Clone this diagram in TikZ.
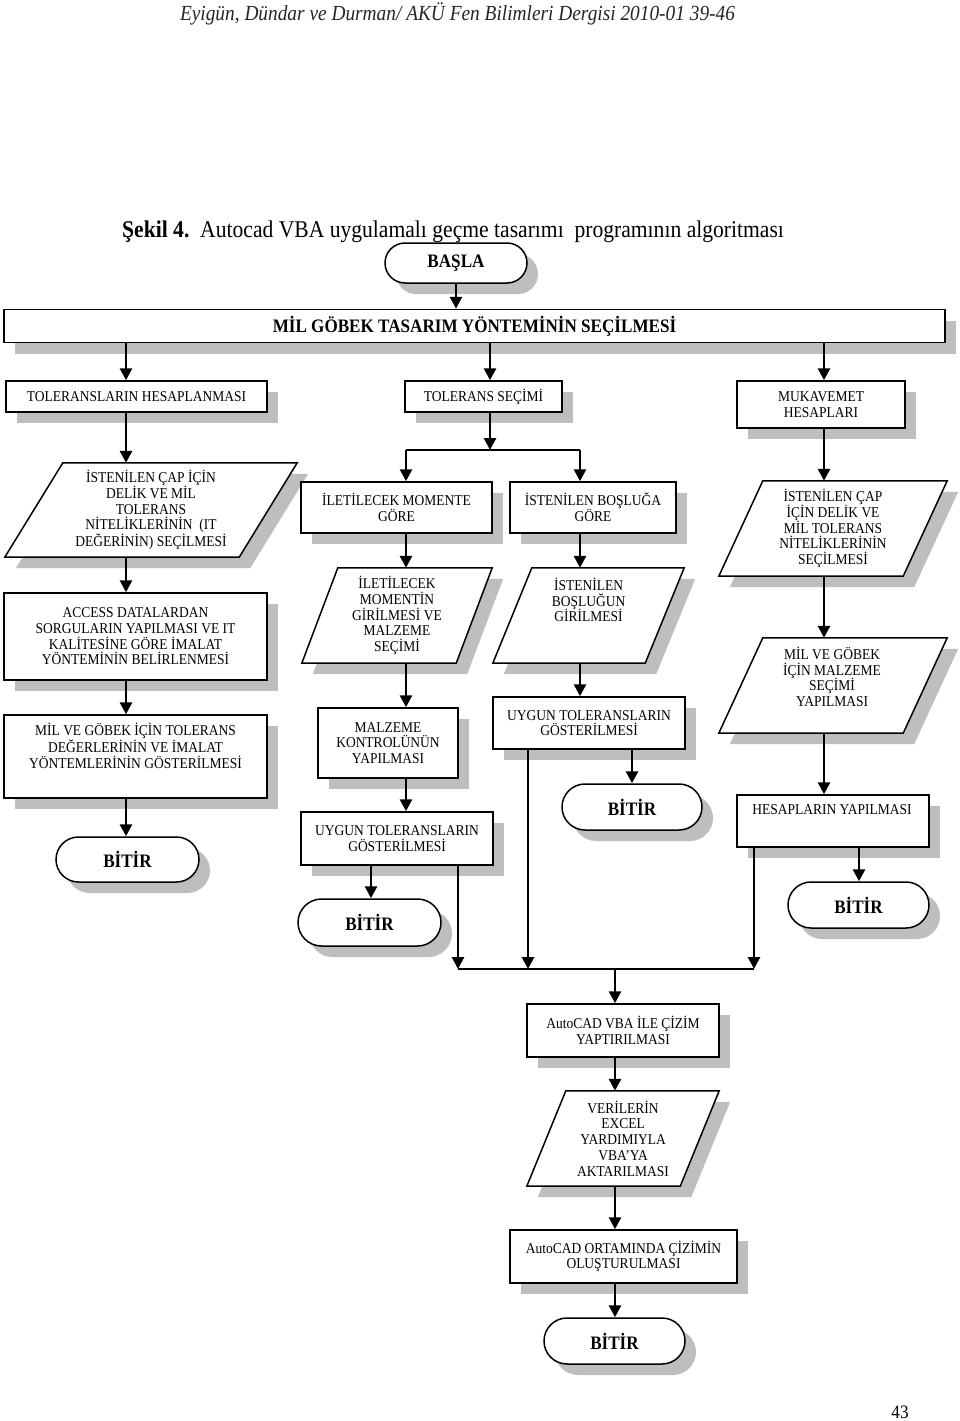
\documentclass[tikz,border=0pt]{standalone}
\usepackage{fontspec}
\setmainfont{Liberation Serif}[FakeStretch=0.9]
\usetikzlibrary{shapes.misc,shadows,calc,arrows.meta}
\pgfdeclarelayer{bg}
\pgfsetlayers{bg,main}
\definecolor{shadowc}{RGB}{190,190,190}
\newcommand{\myBody}{\fontsize{15}{15.7}\selectfont}
\newcommand{\myBold}{\bfseries\fontsize{19}{20}\selectfont}
\newcommand{\parashape}[2]{%
  \begin{pgfonlayer}{bg}
  \fill[shadowc] ($(#1.north west)+(#2+11,11)$) -- ($(#1.north east)+(11,11)$) -- ($(#1.south east)+(-#2+11,11)$) -- ($(#1.south west)+(11,11)$) -- cycle;
  \draw[line width=1.5pt,fill=white,line join=miter] ($(#1.north west)+(#2,0)$) -- (#1.north east) -- ($(#1.south east)+(-#2,0)$) -- (#1.south west) -- cycle;
  \end{pgfonlayer}}
\begin{document}
\begin{tikzpicture}[x=1pt,y=-1pt,
  shadowed/.style={drop shadow={shadow xshift=11pt,shadow yshift=-11pt,opacity=1,fill=shadowc}},
  box/.style={draw,line width=1.5pt,fill=white,rectangle,inner sep=0pt,align=center,font=\myBody,shadowed},
  term/.style={draw,line width=1.5pt,fill=white,rounded rectangle,inner sep=0pt,align=center,font=\myBold,shadowed},
  pbox/.style={rectangle,inner sep=0pt,align=center,font=\myBody},
  txt/.style={inner sep=0pt,align=center,font=\myBody},
  arr/.style={line width=2.8pt,-{Triangle[length=12pt,width=12pt]}},
  wire/.style={line width=2.8pt}]
\begin{pgfonlayer}{bg}
\fill[white] (0,0) rectangle (960,1421);
\end{pgfonlayer}
\useasboundingbox (0,0) rectangle (960,1421);

% header, caption, page number
\node[font=\itshape\fontsize{21.5}{22}\selectfont,text=black!85,inner sep=0pt] (hdr) at (457.5,14) {Eyigün, Dündar ve Durman/ AKÜ Fen Bilimleri Dergisi 2010-01 39-46};
\node[font=\fontsize{24}{25}\selectfont,inner sep=0pt,anchor=west] (cap) at (122,232) {\textbf{Şekil 4.}\ \ Autocad VBA uygulamalı geçme tasarımı\ \ programının algoritması};
\node[font=\fontsize{19}{20}\selectfont,inner sep=0pt] (pg) at (900,1412) {43};

% guide coordinates
\coordinate (xa) at (126,0);
\coordinate (xb) at (490,0);
\coordinate (xc) at (824,0);
\coordinate (xd) at (406,0);
\coordinate (xe) at (580,0);
\coordinate (xf) at (371,0);
\coordinate (xg) at (458,0);
\coordinate (xh) at (528,0);
\coordinate (xi) at (632,0);
\coordinate (xj) at (754,0);
\coordinate (xk) at (859,0);
\coordinate (xm) at (615,0);
\coordinate (jt) at (490,450);
\coordinate (jb) at (615,969);

% top
\node[term,minimum width=142,minimum height=40] (basla) at (456,263) {BAŞLA};
\node[box,minimum width=941,minimum height=33,font=\myBold] (milgobek) at (474.5,326) {MİL GÖBEK TASARIM YÖNTEMİNİN SEÇİLMESİ};
\node[box,minimum width=261,minimum height=31] (tolhes) at (136.5,396.5) {TOLERANSLARIN HESAPLANMASI};
\node[box,minimum width=157,minimum height=31] (tolsec) at (483.5,396.5) {TOLERANS SEÇİMİ};
\node[box,minimum width=168,minimum height=47] (mukav) at (821,404.5) {MUKAVEMET\\HESAPLARI};

% column 1
\node[pbox,minimum width=292,minimum height=94] (par1) at (151,510) {İSTENİLEN ÇAP İÇİN\\DELİK VE MİL\\TOLERANS\\NİTELİKLERİNİN\ \ (IT\\DEĞERİNİN) SEÇİLMESİ};
\parashape{par1}{58}
\node[box,minimum width=263,minimum height=87] (access) at (135.5,636.5) {ACCESS DATALARDAN\\SORGULARIN YAPILMASI VE\ IT\\KALİTESİNE GÖRE İMALAT\\YÖNTEMİNİN BELİRLENMESİ};
\node[box,minimum width=263,minimum height=83] (milgob2) at (135.5,756.5) {};
\node[txt] (milgob2t) at (135.5,746) {MİL VE GÖBEK İÇİN TOLERANS\\DEĞERLERİNİN VE İMALAT\\YÖNTEMLERİNİN GÖSTERİLMESİ};
\node[term,minimum width=143,minimum height=45] (bitir1) at (127.5,859.5) {BİTİR};

% column 2
\node[box,minimum width=191,minimum height=51] (ilet) at (396.5,507.5) {İLETİLECEK MOMENTE\\GÖRE};
\node[pbox,minimum width=190,minimum height=95] (par2) at (397,615.5) {İLETİLECEK\\MOMENTİN\\GİRİLMESİ VE\\MALZEME\\SEÇİMİ};
\parashape{par2}{36}
\node[box,minimum width=140,minimum height=70] (malz) at (388,743) {MALZEME\\KONTROLÜNÜN\\YAPILMASI};
\node[box,minimum width=192,minimum height=53] (uygun1) at (397,838.5) {UYGUN TOLERANSLARIN\\GÖSTERİLMESİ};
\node[term,minimum width=143,minimum height=47] (bitir2) at (369.5,922.5) {BİTİR};

% column 3
\node[box,minimum width=166,minimum height=51] (bosl) at (593,507.5) {İSTENİLEN BOŞLUĞA\\GÖRE};
\node[pbox,minimum width=191,minimum height=95] (par3) at (588.5,615.5) {};
\parashape{par3}{39}
\node[txt] (par3t) at (588.5,600) {İSTENİLEN\\BOŞLUĞUN\\GİRİLMESİ};
\node[box,minimum width=192,minimum height=52] (uygun2) at (589,723) {UYGUN TOLERANSLARIN\\GÖSTERİLMESİ};
\node[term,minimum width=140,minimum height=46] (bitir3) at (632,807) {BİTİR};

% column 4
\node[pbox,minimum width=228,minimum height=95] (par4) at (833,528.5) {İSTENİLEN ÇAP\\İÇİN DELİK VE\\MİL TOLERANS\\NİTELİKLERİNİN\\SEÇİLMESİ};
\parashape{par4}{44}
\node[pbox,minimum width=228,minimum height=95] (par5) at (833,685.5) {};
\parashape{par5}{44}
\node[txt] (par5t) at (832,677) {MİL VE GÖBEK\\İÇİN MALZEME\\SEÇİMİ\\YAPILMASI};
\node[box,minimum width=192,minimum height=52] (hesap) at (833,821) {};
\node[txt] (hesapt) at (832,810) {HESAPLARIN YAPILMASI};
\node[term,minimum width=141,minimum height=46] (bitir4) at (858.5,905) {BİTİR};

% bottom
\node[box,minimum width=192,minimum height=53] (acad1) at (623,1030.5) {AutoCAD VBA İLE ÇİZİM\\YAPTIRILMASI};
\node[pbox,minimum width=192,minimum height=95] (par6) at (623,1138.5) {VERİLERİN\\EXCEL\\YARDIMIYLA\\VBA’YA\\AKTARILMASI};
\parashape{par6}{39}
\node[box,minimum width=227,minimum height=53] (acad2) at (623.5,1256.5) {AutoCAD ORTAMINDA ÇİZİMİN\\OLUŞTURULMASI};
\node[term,minimum width=141,minimum height=46] (bitir5) at (614.5,1341) {BİTİR};

% connectors
\draw[arr] (basla.south) -- (basla.south |- milgobek.north);
\draw[arr] (milgobek.south -| xa) -- (tolhes.north -| xa);
\draw[arr] (milgobek.south -| xb) -- (tolsec.north -| xb);
\draw[arr] (milgobek.south -| xc) -- (mukav.north -| xc);
\draw[arr] (tolhes.south -| xa) -- (par1.north -| xa);
\draw[arr] (par1.south -| xa) -- (access.north -| xa);
\draw[arr] (access.south -| xa) -- (milgob2.north -| xa);
\draw[arr] (milgob2.south -| xa) -- (bitir1.north -| xa);
\draw[arr] (tolsec.south -| xb) -- (jt);
\draw[wire] (jt -| xd) -- (jt -| xe);
\draw[arr] (jt -| xd) -- (ilet.north -| xd);
\draw[arr] (jt -| xe) -- (bosl.north -| xe);
\draw[arr] (ilet.south -| xd) -- (par2.north -| xd);
\draw[arr] (par2.south -| xd) -- (malz.north -| xd);
\draw[arr] (malz.south -| xd) -- (uygun1.north -| xd);
\draw[arr] (uygun1.south -| xf) -- (bitir2.north -| xf);
\draw[arr] (uygun1.south -| xg) -- (jb -| xg);
\draw[arr] (bosl.south -| xe) -- (par3.north -| xe);
\draw[arr] (par3.south -| xe) -- (uygun2.north -| xe);
\draw[arr] (uygun2.south -| xi) -- (bitir3.north -| xi);
\draw[arr] (uygun2.south -| xh) -- (jb -| xh);
\draw[arr] (mukav.south -| xc) -- (par4.north -| xc);
\draw[arr] (par4.south -| xc) -- (par5.north -| xc);
\draw[arr] (par5.south -| xc) -- (hesap.north -| xc);
\draw[arr] (hesap.south -| xk) -- (bitir4.north -| xk);
\draw[arr] (hesap.south -| xj) -- (jb -| xj);
\draw[wire] (jb -| xg) -- (jb -| xj);
\draw[arr] (jb) -- (acad1.north -| jb);
\draw[arr] (acad1.south -| xm) -- (par6.north -| xm);
\draw[arr] (par6.south -| xm) -- (acad2.north -| xm);
\draw[arr] (acad2.south -| xm) -- (bitir5.north -| xm);
\end{tikzpicture}
\end{document}
